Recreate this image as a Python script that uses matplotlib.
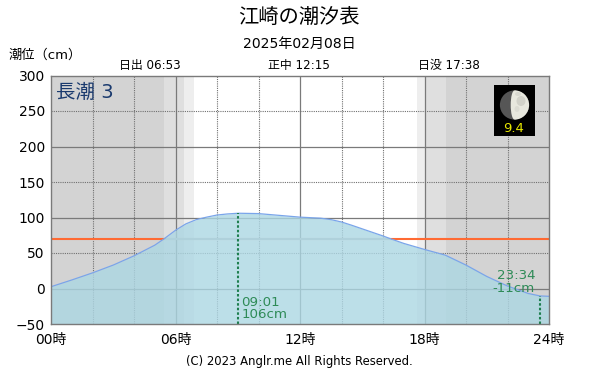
from matplotlib import pyplot as plt
from matplotlib.patches import Circle, Ellipse, Rectangle
import numpy as np

plt.rcParams['font.family'] = ['DejaVu Sans', 'Noto Sans CJK JP']

hours = [0, 1, 2, 3, 4, 5, 5.45, 6, 6.5, 7, 7.5, 8, 8.5, 9.02, 10, 11, 12, 13, 13.5, 14, 14.5, 15, 15.5, 16, 16.37, 17, 18, 19, 20, 21, 22, 23, 23.57, 24]
levels = [2.5, 12, 22, 33, 46, 61, 70, 82, 91, 97, 100.5, 103.5, 105, 106, 105.5, 103, 100.5, 99, 97, 93.7, 89, 84, 79, 74, 70, 63.5, 55, 47, 33, 17, 3.5, -7, -10.5, -11]

yticks = [-50, 0, 50, 100, 150, 200, 250, 300]
xticks = [0, 6, 12, 18, 24]
xlabels = ['00時', '06時', '12時', '18時', '24時']
major_y = [0, 100, 200]
minor_y = [50, 150, 250]
major_x = [6, 12, 18]
minor_x = [2, 4, 8, 10, 14, 16, 20, 22]

# twilight bands: start, end
dark_bands = [(0, 5.45), (19.04, 24)]
mid_bands = [(5.45, 6.4), (18, 19.04)]
light_bands = [(6.4, 6.88), (17.63, 18)]

tide_limit = 70
above_limit = (5.45, 16.37)
peaks = [(9.02, 106), (23.57, -11)]

W, H = 600, 375
fig = plt.figure(figsize=(6, 3.75), dpi=100)
ax = fig.add_axes([51 / W, 1 - 324 / H, 498 / W, 248.5 / H])
ax.set_xlim(0, 24)
ax.set_ylim(-50, 300)

for start, end in dark_bands:
    ax.axvspan(start, end, color='#d3d3d3', lw=0, zorder=0)
for start, end in mid_bands:
    ax.axvspan(start, end, color='#dfdfdf', lw=0, zorder=0)
for start, end in light_bands:
    ax.axvspan(start, end, color='#eeeeee', lw=0, zorder=0)

for y in major_y:
    ax.axhline(y, color='#7a7a7a', lw=0.9, zorder=1)
for x in major_x:
    ax.axvline(x, color='#7a7a7a', lw=0.9, zorder=1)
for y in minor_y:
    ax.axhline(y, color='#707070', lw=0.8, ls=(0, (1, 1)), zorder=1)
for x in minor_x:
    ax.axvline(x, color='#707070', lw=0.8, ls=(0, (1, 1)), zorder=1)

ax.axhline(tide_limit, color='#ff6a33', lw=1.5, zorder=2)
ax.plot(above_limit, [tide_limit, tide_limit], color='#bdbdbd', lw=1.5, solid_capstyle='butt', zorder=2.5)

ax.fill_between(hours, levels, -50, color='#acd7e3', alpha=0.8, lw=0, zorder=3)
ax.plot(hours, levels, color='#7aa5ea', lw=0.9, zorder=4)

for x, y in peaks:
    ax.plot([x, x], [-50, y], color='#1e7f4f', lw=1.5, ls=(0, (1.2, 1)), zorder=5)

green = '#2e8b57'
ax.annotate('09:01', (9.02, -50), xytext=(3, 22), textcoords='offset pixels', color=green, fontsize=9.6, zorder=6, va='center')
ax.annotate('106cm', (9.02, -50), xytext=(3, 9), textcoords='offset pixels', color=green, fontsize=9.6, zorder=6, va='center')
ax.annotate('23:34', (23.57, -11), xytext=(-5, 21), textcoords='offset pixels', color=green, fontsize=9.6, ha='right', zorder=6, va='center')
ax.annotate('-11cm', (23.57, -11), xytext=(-5, 8), textcoords='offset pixels', color=green, fontsize=9.6, ha='right', zorder=6, va='center')

for side in ax.spines.values():
    side.set_color('#7a7a7a')
    side.set_linewidth(1.0)
    side.set_zorder(7)

ax.set_yticks(yticks)
ax.set_xticks(xticks, xlabels)
ax.tick_params(length=0, labelsize=10, pad=6.5, colors='black')
ax.tick_params(axis='y', pad=4.5)

ax.text(4.5 / 498, 0.97, '長潮 3', transform=ax.transAxes, color='#1a3a6e', fontsize=14, va='top', zorder=8)


def fig_text(x, y, s, **kw):
    fig.text(x / W, 1 - y / H, s, va='center', **kw)


fig_text(299, 17, '江崎の潮汐表', ha='center', fontsize=14.6)
fig_text(299, 44, '2025年02月08日', ha='center', fontsize=10.1)
fig_text(9, 55, '潮位（cm）', ha='left', fontsize=9.5)
fig_text(150, 65, '日出 06:53', ha='center', fontsize=8.6)
fig_text(299, 65, '正中 12:15', ha='center', fontsize=8.6)
fig_text(449, 65, '日没 17:38', ha='center', fontsize=8.6)
fig_text(299, 362, '(C) 2023 Anglr.me All Rights Reserved.', ha='center', fontsize=8.4)

# moon badge
moon = fig.add_axes([494 / W, 1 - 136 / H, 41 / W, 51 / H], zorder=10)
moon.set_xlim(0, 41)
moon.set_ylim(51, 0)
moon.set_facecolor('black')
moon.set_xticks([])
moon.set_yticks([])
for side in moon.spines.values():
    side.set_visible(False)
moon.add_patch(Circle((20.5, 20), 14.6, color='#565656', lw=0))
bright = Ellipse((20.5, 20), 29.2, 29.2, color='#e8e8de', lw=0)
moon.add_patch(bright)
bright.set_clip_path(Rectangle((20.5, 0), 21, 40, transform=moon.transData))
moon.add_patch(Ellipse((20.5, 20), 7.6, 29.2, color='#e8e8de', lw=0))
moon.add_patch(Ellipse((27, 16), 9, 10, color='#d2d2c9', lw=0))
moon.add_patch(Ellipse((24, 9), 6, 4, color='#d8d8cf', lw=0))
moon.add_patch(Ellipse((23, 24), 5, 6, color='#dcdcd3', lw=0))
moon.text(20, 43, '9.4', color='#e6e600', fontsize=9.5, ha='center', va='center')

fig.savefig('out.png', dpi=100)
